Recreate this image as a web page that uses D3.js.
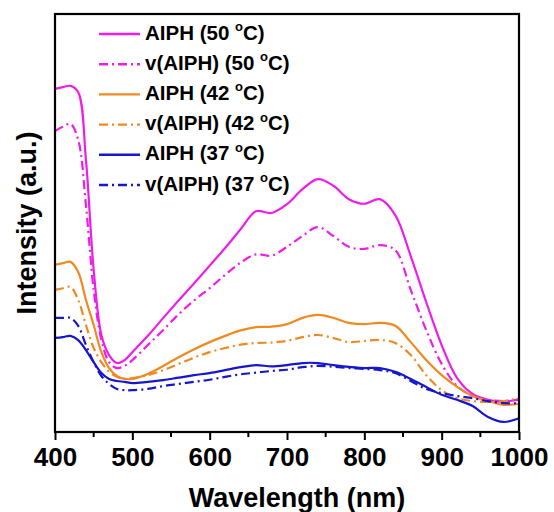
<!DOCTYPE html>
<html>
<head>
<meta charset="utf-8">
<script src="https://cdn.jsdelivr.net/npm/d3@7"></script>
<style>
  html, body { margin: 0; padding: 0; background: #fff; }
  svg { display: block; }
  text { font-family: "Liberation Sans", Arial, sans-serif; font-weight: bold; fill: #000; }
</style>
</head>
<body>
<svg id="chart" width="554" height="512"></svg>
<script>
// Wavelength grid (nm) shared by all spectra
const wavelengths = [400, 410, 420, 430, 440, 450, 460, 470, 480, 490, 500,
  520, 540, 560, 580, 600, 620, 640, 660, 680, 700, 720, 740, 760, 780, 800,
  820, 840, 860, 880, 900, 920, 940, 960, 980, 1000];

// Absorbance spectra (a.u.)
const aiph50 = [82.1, 82.5, 82.8, 81.3, 65.1, 38.8, 23.2, 18.4, 16.5, 17.2, 19.1,
  23.0, 27.3, 31.5, 35.6, 39.8, 44.0, 48.5, 52.8, 52.4, 54.5, 58.1, 60.5, 58.9, 55.7, 54.6,
  55.7, 51.9, 42.1, 31.1, 20.8, 12.9, 9.1, 7.7, 7.2, 7.9];
const vAiph50 = [72.0, 73.0, 73.7, 69.9, 54.3, 34.0, 22.0, 16.7, 15.3, 15.8, 17.2,
  20.8, 24.4, 28.2, 31.5, 34.4, 37.6, 40.5, 42.5, 42.2, 44.3, 46.9, 49.0, 46.9, 44.3, 43.8,
  44.7, 43.5, 34.0, 24.4, 16.3, 11.0, 8.6, 7.7, 7.4, 7.7];
const aiph42 = [40.0, 40.4, 40.7, 38.3, 31.6, 25.6, 19.1, 15.3, 13.4, 12.7, 12.7,
  13.9, 15.8, 17.9, 19.8, 21.5, 23.0, 24.3, 25.1, 25.2, 25.8, 27.3, 28.0, 27.3, 26.1, 25.8,
  26.1, 25.4, 21.5, 17.2, 13.6, 10.8, 8.6, 7.4, 6.5, 6.7];
const vAiph42 = [34.0, 34.4, 34.7, 31.6, 25.6, 20.1, 16.7, 14.4, 13.2, 12.7, 12.9,
  13.6, 14.8, 16.3, 17.8, 19.1, 20.1, 20.9, 21.3, 21.4, 21.8, 22.7, 23.2, 22.5, 21.5, 21.8,
  22.0, 21.3, 18.4, 13.6, 10.0, 8.1, 7.4, 7.2, 7.4, 8.1];
const aiph37 = [22.5, 22.7, 23.0, 22.0, 19.6, 16.7, 14.1, 12.7, 12.2, 12.0, 11.7,
  12.0, 12.4, 13.0, 13.6, 14.1, 14.8, 15.5, 16.0, 15.7, 16.0, 16.5, 16.5, 16.0, 15.6, 15.3,
  15.3, 14.4, 12.7, 10.8, 8.9, 7.7, 6.2, 3.6, 2.4, 3.3];
const vAiph37 = [27.3, 27.3, 27.3, 25.4, 20.8, 16.7, 13.4, 11.5, 10.3, 10.0, 10.0,
  10.3, 11.0, 11.5, 12.0, 12.5, 13.2, 13.8, 14.2, 14.6, 14.9, 15.5, 15.8, 15.6, 15.3, 15.1,
  14.8, 14.1, 12.2, 10.3, 9.3, 8.6, 8.1, 7.4, 6.9, 6.9];

const seriesNames = ["AIPH", "v(AIPH)", "AIPH", "v(AIPH)", "AIPH", "v(AIPH)"];
const seriesTemps = ["50", "50", "42", "42", "37", "37"];
const seriesValues = [aiph50, vAiph50, aiph42, vAiph42, aiph37, vAiph37];
const seriesColors = ["#ee1ee8", "#ee1ee8", "#f0891f", "#f0891f", "#1616cf", "#1616cf"];
const seriesDashed = [false, true, false, true, false, true];

const xTicks = [400, 500, 600, 700, 800, 900, 1000];
const xMinorTicks = [450, 550, 650, 750, 850, 950];

const svg = d3.select("#chart");
const margin = { left: 55, right: 35, top: 14, bottom: 80 };
const W = 554, H = 512;

const x = d3.scaleLinear().domain([400, 1000]).range([margin.left, W - margin.right]);
const y = d3.scaleLinear().domain([0, 100]).range([H - margin.bottom, margin.top]);

const dashPattern = "9,4,2,4";

// Spectra
const line = d3.line()
  .x(d => x(d[0]))
  .y(d => y(d[1]))
  .curve(d3.curveCatmullRom.alpha(0.5));

const plot = svg.append("g");
seriesValues.forEach((vals, i) => {
  const pts = wavelengths.map((w, j) => [w, vals[j]]);
  plot.append("path")
    .datum(pts)
    .attr("d", line)
    .attr("fill", "none")
    .attr("stroke", seriesColors[i])
    .attr("stroke-width", 2.2)
    .attr("stroke-linejoin", "round")
    .attr("stroke-dasharray", seriesDashed[i] ? dashPattern : null);
});

// Frame
svg.append("rect")
  .attr("x", x(400)).attr("y", y(100))
  .attr("width", x(1000) - x(400)).attr("height", y(0) - y(100))
  .attr("fill", "none").attr("stroke", "#000").attr("stroke-width", 2.2);

// Bottom axis
const xAxis = svg.append("g").attr("transform", `translate(0,${y(0)})`)
  .call(d3.axisBottom(x).tickValues(xTicks).tickSize(8).tickPadding(8).tickFormat(d3.format("d")));
xAxis.select(".domain").remove();
xAxis.selectAll(".tick line").attr("stroke", "#000").attr("stroke-width", 2);
xAxis.selectAll(".tick text")
  .attr("font-size", 26).attr("font-family", "Liberation Sans, Arial, sans-serif")
  .attr("font-weight", "bold").attr("fill", "#000");

svg.append("g").selectAll("line").data(xMinorTicks).join("line")
  .attr("x1", d => x(d)).attr("x2", d => x(d))
  .attr("y1", y(0)).attr("y2", y(0) + 5)
  .attr("stroke", "#000").attr("stroke-width", 2);

// Axis titles
svg.append("text")
  .attr("x", 297).attr("y", 507)
  .attr("text-anchor", "middle").attr("font-size", 27)
  .text("Wavelength (nm)");

svg.append("text")
  .attr("transform", `translate(36,${(y(0) + y(100)) / 2}) rotate(-90)`)
  .attr("text-anchor", "middle").attr("font-size", 27)
  .text("Intensity (a.u.)");

// Legend
const legend = svg.append("g");
seriesValues.forEach((_, i) => {
  const cy = 34 + i * 30.2;
  legend.append("line")
    .attr("x1", 99).attr("x2", 140).attr("y1", cy).attr("y2", cy)
    .attr("stroke", seriesColors[i]).attr("stroke-width", 2.4)
    .attr("stroke-dasharray", seriesDashed[i] ? dashPattern : null);
  const t = legend.append("text").attr("x", 145).attr("y", cy + 5.5).attr("font-size", 20.5);
  t.append("tspan").text(`${seriesNames[i]} (${seriesTemps[i]} `);
  t.append("tspan").attr("font-size", 13).attr("dy", -8.5).text("o");
  t.append("tspan").attr("dy", 8.5).text("C)");
});
</script>
</body>
</html>
